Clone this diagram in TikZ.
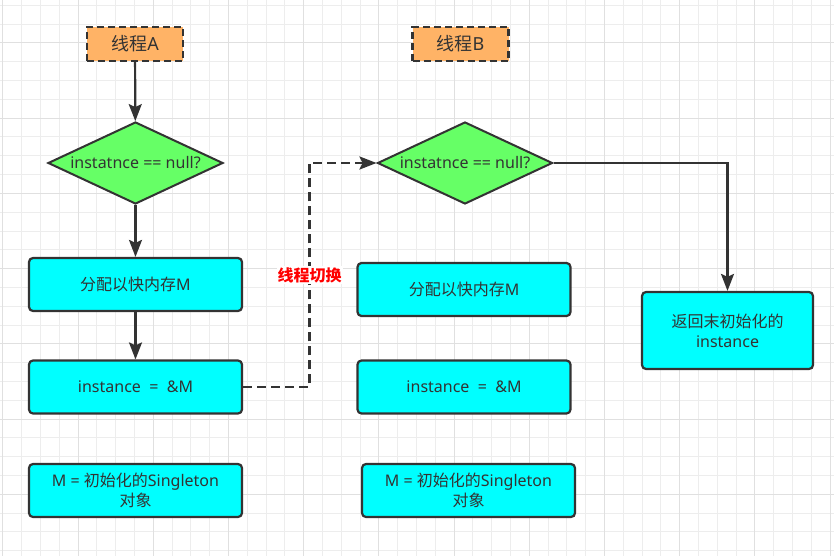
\documentclass[tikz,border=0pt]{standalone}
\usepackage{fontspec}
\setmainfont{Noto Sans}
\newfontfamily\cjk{Noto Sans CJK SC}
\usepackage{xcolor}
\usepackage{tikz}
\usetikzlibrary{calc, positioning, arrows.meta, shapes.geometric}
\definecolor{ink}{HTML}{333333}
\definecolor{threadfill}{HTML}{FFB366}
\definecolor{testfill}{HTML}{66FF66}
\definecolor{stepfill}{HTML}{00FFFF}
\definecolor{gridminor}{HTML}{EDEDED}
\definecolor{gridmajor}{HTML}{E0E0E0}
\tikzset{
    thread/.style={rectangle, draw=ink, line width=2.2pt, dash pattern=on 7pt off 4pt, fill=threadfill, text=ink, minimum width=96pt, minimum height=34pt, inner sep=0pt, font=\fontsize{18}{22}\selectfont},
    decision/.style={diamond, draw=ink, line width=2pt, fill=testfill, text=ink, aspect=2.13, inner sep=0pt, minimum width=175pt, minimum height=82pt, font=\fontsize{16}{20}\selectfont},
    process/.style={rectangle, rounded corners=4pt, draw=ink, line width=2.2pt, fill=stepfill, text=ink, align=center, minimum width=213pt, minimum height=53pt, inner sep=0pt, font=\fontsize{16}{20}\selectfont},
    arrow/.style={-{Stealth[length=17pt, width=13pt, inset=3pt]}, draw=ink, line width=2.2pt},
    dasharrow/.style={arrow, dash pattern=on 9pt off 5pt},
    switch/.style={fill=white, text=red, inner sep=1pt, font=\cjk\bfseries\fontsize{16}{20}\selectfont}
}
\begin{document}
\begin{tikzpicture}[x=1pt, y=-1pt]
    \useasboundingbox (0,0) rectangle (834,556);
    % Grid
    \fill[white] (0,0) rectangle (834,556);
    \foreach \k in {0,...,44} {
        \pgfmathsetmacro{\gx}{2.8+18.8*\k}
        \draw[gridminor, line width=1pt] (\gx,0) -- (\gx,556);
    }
    \foreach \k in {0,...,29} {
        \pgfmathsetmacro{\gy}{5.4+18.8*\k}
        \draw[gridminor, line width=1pt] (0,\gy) -- (834,\gy);
    }
    \foreach \k in {0,4,...,44} {
        \pgfmathsetmacro{\gx}{2.8+18.8*\k}
        \draw[gridmajor, line width=1pt] (\gx,0) -- (\gx,556);
    }
    \foreach \k in {2,6,...,29} {
        \pgfmathsetmacro{\gy}{5.4+18.8*\k}
        \draw[gridmajor, line width=1pt] (0,\gy) -- (834,\gy);
    }

    % Thread A
    \node[thread] (tA) at (135,44) {{\cjk 线程}A};
    \node[decision] (dA) at (135.5,163) {instatnce == null?};
    \node[process] (allocA) at (135.5,284.5) {{\cjk 分配以快内存}M};
    \node[process] (instA) at (135.5,387) {instance \ = \ \&M};
    \node[process] (initA) at (135.5,490.5) {M = {\cjk 初始化的}Singleton\\{\cjk 对象}};

    % Thread B
    \node[thread] (tB) at (460.5,44) {{\cjk 线程}B};
    \node[decision] (dB) at (465,163) {instatnce == null?};
    \node[process] (allocB) at (464,289.5) {{\cjk 分配以快内存}M};
    \node[process] (instB) at (464,387) {instance \ = \ \&M};
    \node[process] (initB) at (468.5,490.5) {M = {\cjk 初始化的}Singleton\\{\cjk 对象}};
    \node[process, minimum width=171pt, minimum height=77pt] (ret) at (727.5,330.5) {{\cjk 返回末初始化的}\\instance};

    % Connectors
    \draw[arrow] (tA) -- (dA);
    \draw[arrow] (dA) -- (allocA);
    \draw[arrow] (allocA) -- (instA);
    \coordinate (bend) at (309.5,387);
    \draw[dasharrow] (instA.east) -- (bend) |- node[pos=0.25, switch] {线程切换} (dB.west);
    \draw[arrow] (dB.east) -| (ret.north);
\end{tikzpicture}
\end{document}
